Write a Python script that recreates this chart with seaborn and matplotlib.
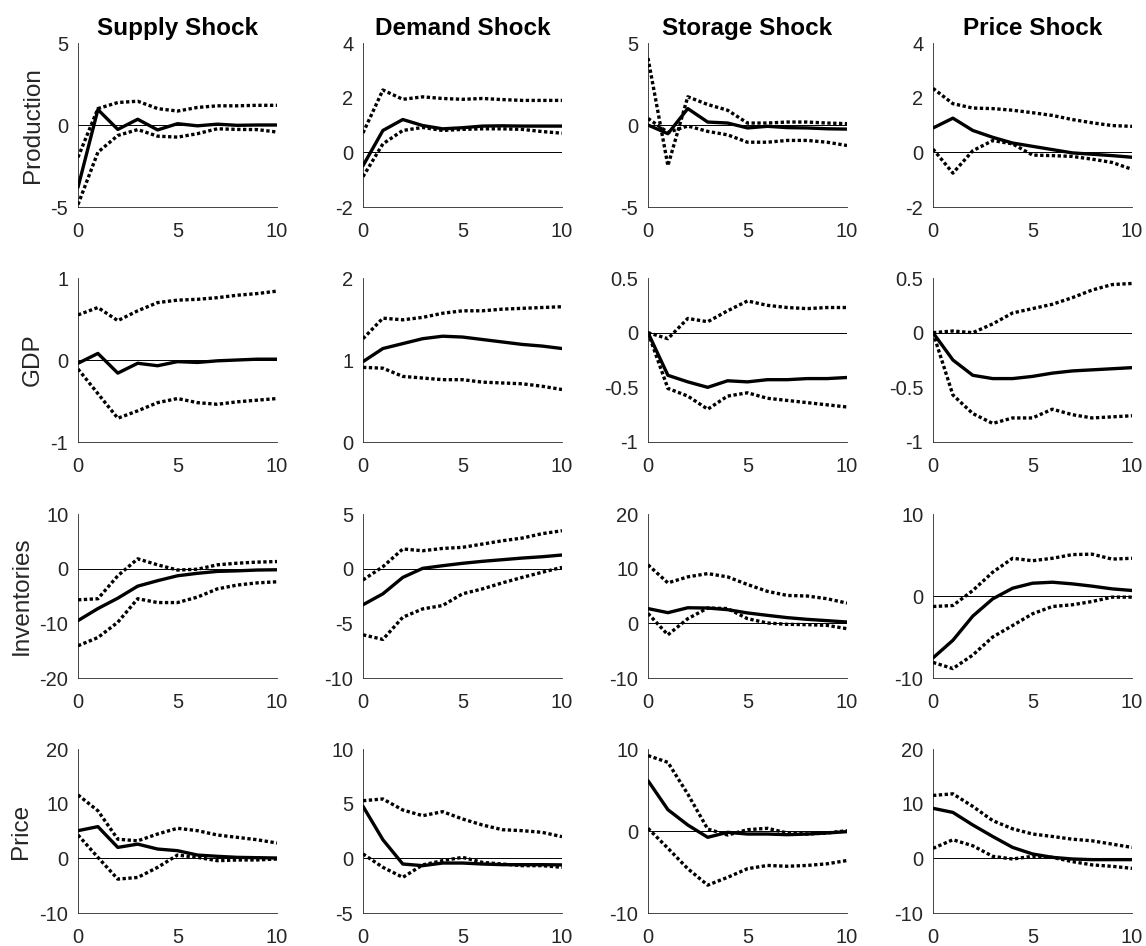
import numpy as np
import pandas as pd
import matplotlib
matplotlib.use("Agg")
import matplotlib.pyplot as plt
import seaborn as sns

steps = list(range(11))

shocks = ["Supply Shock", "Demand Shock", "Storage Shock", "Price Shock"]
variables = ["Production", "GDP", "Inventories", "Price"]

# ---- Production responses ----
prod_supply_mid = [-3.8, 0.94, -0.27, 0.35, -0.3, 0.08, -0.05, 0.05, -0.02, 0.0, 0.0]
prod_supply_hi = [-1.97, 1.0, 1.37, 1.45, 1.0, 0.85, 1.07, 1.17, 1.17, 1.2, 1.2]
prod_supply_lo = [-4.85, -1.66, -0.64, -0.28, -0.68, -0.74, -0.53, -0.23, -0.27, -0.28, -0.43]

prod_demand_mid = [-0.49, 0.8, 1.2, 0.98, 0.86, 0.9, 0.96, 0.97, 0.96, 0.96, 0.96]
prod_demand_hi = [0.71, 2.28, 1.94, 2.03, 1.97, 1.94, 1.97, 1.93, 1.9, 1.9, 1.9]
prod_demand_lo = [-0.89, 0.31, 0.8, 0.91, 0.8, 0.84, 0.86, 0.86, 0.84, 0.76, 0.7]

prod_storage_mid = [0.0, -0.53, 1.0, 0.18, 0.12, -0.18, -0.08, -0.16, -0.18, -0.23, -0.25]
prod_storage_hi = [4.08, -2.48, 1.72, 1.25, 0.9, 0.12, 0.12, 0.18, 0.18, 0.12, 0.08]
prod_storage_lo = [0.4, -0.45, -0.06, -0.39, -0.6, -1.05, -1.05, -0.94, -0.94, -1.05, -1.25]

prod_price_mid = [0.89, 1.25, 0.8, 0.55, 0.34, 0.22, 0.1, -0.02, -0.07, -0.12, -0.18]
prod_price_hi = [2.34, 1.78, 1.62, 1.6, 1.54, 1.45, 1.35, 1.2, 1.08, 0.98, 0.95]
prod_price_lo = [0.12, -0.76, 0.06, 0.43, 0.31, -0.1, -0.12, -0.15, -0.25, -0.37, -0.62]

# ---- GDP responses ----
gdp_supply_mid = [-0.04, 0.08, -0.16, -0.04, -0.07, -0.02, -0.03, -0.01, 0.0, 0.01, 0.01]
gdp_supply_hi = [0.55, 0.64, 0.48, 0.6, 0.7, 0.73, 0.74, 0.76, 0.79, 0.81, 0.84]
gdp_supply_lo = [-0.11, -0.41, -0.71, -0.62, -0.52, -0.47, -0.52, -0.54, -0.51, -0.49, -0.47]

gdp_demand_mid = [0.98, 1.14, 1.2, 1.26, 1.29, 1.28, 1.25, 1.22, 1.19, 1.17, 1.14]
gdp_demand_hi = [1.26, 1.51, 1.49, 1.52, 1.57, 1.6, 1.6, 1.62, 1.63, 1.64, 1.65]
gdp_demand_lo = [0.91, 0.9, 0.8, 0.78, 0.76, 0.76, 0.73, 0.72, 0.71, 0.68, 0.64]

gdp_storage_mid = [0.0, -0.39, -0.45, -0.5, -0.44, -0.45, -0.43, -0.43, -0.42, -0.42, -0.41]
gdp_storage_hi = [0.0, -0.055, 0.13, 0.1, 0.2, 0.29, 0.25, 0.23, 0.22, 0.23, 0.23]
gdp_storage_lo = [0.0, -0.51, -0.58, -0.7, -0.58, -0.55, -0.6, -0.62, -0.64, -0.66, -0.68]

gdp_price_mid = [0.0, -0.25, -0.39, -0.42, -0.42, -0.4, -0.37, -0.35, -0.34, -0.33, -0.32]
gdp_price_hi = [0.0, 0.015, 0.0, 0.08, 0.18, 0.22, 0.26, 0.32, 0.39, 0.44, 0.45]
gdp_price_lo = [0.0, -0.57, -0.74, -0.83, -0.78, -0.78, -0.7, -0.75, -0.78, -0.77, -0.76]

# ---- Inventories responses ----
inv_supply_mid = [-9.5, -7.3, -5.4, -3.2, -2.2, -1.3, -0.85, -0.5, -0.4, -0.25, -0.2]
inv_supply_hi = [-5.7, -5.5, -1.3, 1.8, 0.7, -0.25, -0.1, 0.7, 1.0, 1.2, 1.3]
inv_supply_lo = [-14.1, -12.6, -9.8, -5.5, -6.2, -6.2, -5.2, -3.7, -3.0, -2.6, -2.4]

inv_demand_mid = [-3.3, -2.3, -0.8, 0.03, 0.27, 0.49, 0.67, 0.82, 0.97, 1.09, 1.25]
inv_demand_hi = [-1.03, 0.18, 1.8, 1.64, 1.85, 1.95, 2.25, 2.55, 2.8, 3.2, 3.47]
inv_demand_lo = [-6.05, -6.47, -4.44, -3.68, -3.37, -2.3, -1.85, -1.3, -0.8, -0.33, 0.12]

inv_storage_mid = [2.7, 1.95, 2.85, 2.8, 2.5, 1.9, 1.46, 1.04, 0.73, 0.49, 0.24]
inv_storage_hi = [10.7, 7.4, 8.5, 9.1, 8.5, 7.1, 5.85, 5.1, 5.0, 4.5, 3.7]
inv_storage_lo = [1.8, -2.1, 0.85, 2.8, 2.7, 0.85, 0.06, -0.18, -0.24, -0.37, -0.98]

inv_price_mid = [-7.55, -5.4, -2.45, -0.35, 0.95, 1.56, 1.68, 1.48, 1.2, 0.87, 0.67]
inv_price_hi = [-1.28, -1.16, 0.67, 2.9, 4.6, 4.3, 4.6, 5.05, 5.1, 4.5, 4.6]
inv_price_lo = [-8.1, -8.85, -7.2, -5.0, -3.6, -2.17, -1.28, -1.07, -0.67, -0.14, -0.14]

# ---- Price responses ----
price_supply_mid = [5.06, 5.8, 2.0, 2.6, 1.7, 1.4, 0.6, 0.37, 0.18, 0.12, 0.06]
price_supply_hi = [11.6, 8.7, 3.5, 3.2, 4.45, 5.5, 5.06, 4.27, 3.84, 3.4, 2.8]
price_supply_lo = [4.27, 0.18, -3.8, -3.5, -1.65, 0.6, 0.18, -0.43, -0.3, -0.3, -0.12]

price_demand_mid = [4.76, 1.7, -0.52, -0.67, -0.43, -0.43, -0.52, -0.58, -0.58, -0.58, -0.6]
price_demand_hi = [5.27, 5.43, 4.42, 3.9, 4.27, 3.6, 3.05, 2.62, 2.53, 2.38, 1.98]
price_demand_lo = [0.4, -0.82, -1.74, -0.6, -0.21, 0.09, -0.37, -0.52, -0.67, -0.67, -0.82]

price_storage_mid = [6.14, 2.6, 0.73, -0.77, -0.16, -0.37, -0.37, -0.45, -0.37, -0.24, -0.08]
price_storage_hi = [9.2, 8.37, 4.5, 0.24, -0.49, 0.16, 0.33, -0.24, -0.37, -0.24, 0.04]
price_storage_lo = [0.33, -2.1, -4.6, -6.6, -5.65, -4.6, -4.2, -4.3, -4.2, -4.0, -3.6]

price_price_mid = [9.15, 8.4, 6.1, 4.0, 2.0, 0.8, 0.18, -0.12, -0.24, -0.24, -0.24]
price_price_hi = [11.5, 11.8, 9.5, 6.9, 5.4, 4.45, 4.0, 3.5, 3.2, 2.6, 2.0]
price_price_lo = [1.83, 3.4, 2.3, 0.37, -0.12, 0.37, 0.18, -0.6, -1.2, -1.46, -1.83]

responses = [
    [(prod_supply_mid, prod_supply_hi, prod_supply_lo),
     (prod_demand_mid, prod_demand_hi, prod_demand_lo),
     (prod_storage_mid, prod_storage_hi, prod_storage_lo),
     (prod_price_mid, prod_price_hi, prod_price_lo)],
    [(gdp_supply_mid, gdp_supply_hi, gdp_supply_lo),
     (gdp_demand_mid, gdp_demand_hi, gdp_demand_lo),
     (gdp_storage_mid, gdp_storage_hi, gdp_storage_lo),
     (gdp_price_mid, gdp_price_hi, gdp_price_lo)],
    [(inv_supply_mid, inv_supply_hi, inv_supply_lo),
     (inv_demand_mid, inv_demand_hi, inv_demand_lo),
     (inv_storage_mid, inv_storage_hi, inv_storage_lo),
     (inv_price_mid, inv_price_hi, inv_price_lo)],
    [(price_supply_mid, price_supply_hi, price_supply_lo),
     (price_demand_mid, price_demand_hi, price_demand_lo),
     (price_storage_mid, price_storage_hi, price_storage_lo),
     (price_price_mid, price_price_hi, price_price_lo)],
]

# y-axis limits and ticks for each panel
y_limits = [
    [(-5, 5), (-2, 4), (-5, 5), (-2, 4)],
    [(-1, 1), (0, 2), (-1, 0.5), (-1, 0.5)],
    [(-20, 10), (-10, 5), (-10, 20), (-10, 10)],
    [(-10, 20), (-5, 10), (-10, 10), (-10, 20)],
]
y_ticks = [
    [[-5, 0, 5], [-2, 0, 2, 4], [-5, 0, 5], [-2, 0, 2, 4]],
    [[-1, 0, 1], [0, 1, 2], [-1, -0.5, 0, 0.5], [-1, -0.5, 0, 0.5]],
    [[-20, -10, 0, 10], [-10, -5, 0, 5], [-10, 0, 10, 20], [-10, 0, 10]],
    [[-10, 0, 10, 20], [-5, 0, 5, 10], [-10, 0, 10], [-10, 0, 10, 20]],
]
x_ticks = [0, 5, 10]

sns.set_theme(style="white")
plt.rcParams["font.family"] = ["Liberation Sans", "DejaVu Sans"]
plt.rcParams["axes.edgecolor"] = "#262626"
plt.rcParams["axes.linewidth"] = 0.6

W, H = 1146, 946
fig = plt.figure(figsize=(W / 100, H / 100), dpi=100)
fig.patch.set_facecolor("white")

ax_w, ax_h = 199, 164
col_left = [78, 363, 648, 933]
row_top = [43, 278, 514, 749]

dotted = (1.0, 0.75)
ink = "#262626"

for r in range(4):
    for c in range(4):
        left = col_left[c] / W
        bottom = 1 - (row_top[r] + ax_h) / H
        ax = fig.add_axes([left, bottom, ax_w / W, ax_h / H])
        mid, hi, lo = responses[r][c]
        df = pd.DataFrame({
            "step": steps * 3,
            "value": mid + hi + lo,
            "band": ["median"] * 11 + ["upper"] * 11 + ["lower"] * 11,
        })
        ax.axhline(0, color="black", lw=0.7, zorder=1)
        sns.lineplot(
            data=df, x="step", y="value", style="band",
            dashes={"median": "", "upper": dotted, "lower": dotted},
            color="black", linewidth=2.4, estimator=None, sort=False,
            legend=False, ax=ax, zorder=3,
        )
        ax.set_xlim(0, 10)
        ax.set_ylim(*y_limits[r][c])
        ax.set_xticks(x_ticks)
        ax.set_yticks(y_ticks[r][c])
        ax.set_yticklabels([f"{t:g}" for t in y_ticks[r][c]])
        ax.set_xlabel("")
        ax.set_ylabel("")
        for side in ("top", "right"):
            ax.spines[side].set_visible(False)
        ax.tick_params(axis="both", direction="in", length=3, width=0.6,
                       colors=ink, labelsize=14.5)
        ax.tick_params(axis="x", pad=10.5)
        ax.tick_params(axis="y", pad=7)
        ax.grid(False)
        if r == 0:
            ax.set_title(shocks[c], fontsize=17.5, fontweight="bold",
                         color="black", pad=6)
        if c == 0:
            ax.set_ylabel(variables[r], fontsize=17.5, color=ink, labelpad=5)

fig.savefig("out.png", dpi=100, facecolor="white")
